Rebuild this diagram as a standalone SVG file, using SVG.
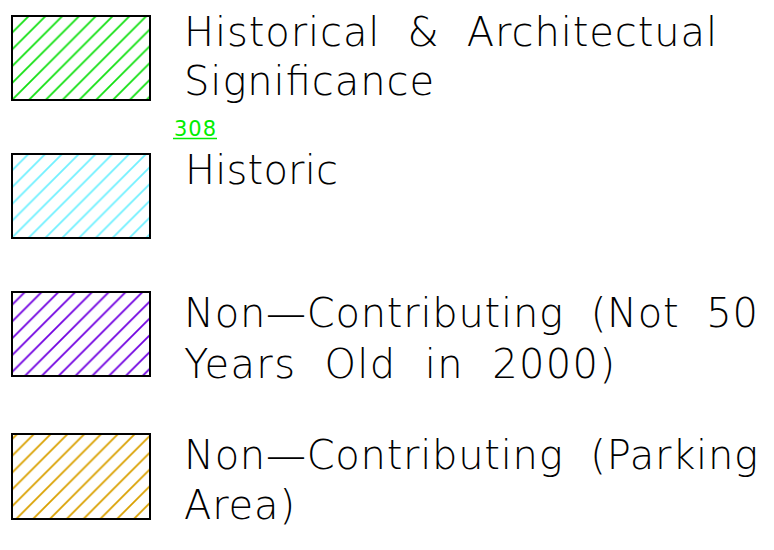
<svg xmlns="http://www.w3.org/2000/svg" width="774" height="550" viewBox="0 0 774 550">
<style>
.box{fill:none;stroke:#000;stroke-width:2}
.lbl{font-family:"DejaVu Sans ExtraLight","DejaVu Sans",sans-serif;font-weight:200;font-size:40px;fill:#000;white-space:pre}
.num{font-family:"DejaVu Sans","Liberation Sans",sans-serif;font-size:21px;fill:#00ee00}
.h{stroke-width:1.8;fill:none}
</style>
<defs>
<pattern id="pG" patternUnits="userSpaceOnUse" x="11.2" y="0" width="16.8" height="16.8"><path class="h" stroke="#10e010" d="M0,16.8L16.8,0M-1,1L1,-1M15.8,17.8L17.8,15.8"/></pattern>
<pattern id="pC" patternUnits="userSpaceOnUse" x="14.5" y="0" width="16.8" height="16.8"><path class="h" stroke="#70f0ff" d="M0,16.8L16.8,0M-1,1L1,-1M15.8,17.8L17.8,15.8"/></pattern>
<pattern id="pP" patternUnits="userSpaceOnUse" x="14.5" y="0" width="16.8" height="16.8"><path class="h" stroke="#7000e0" d="M0,16.8L16.8,0M-1,1L1,-1M15.8,17.8L17.8,15.8"/></pattern>
<pattern id="pO" patternUnits="userSpaceOnUse" x="14.4" y="0" width="16.8" height="16.8"><path class="h" stroke="#d9a000" d="M0,16.8L16.8,0M-1,1L1,-1M15.8,17.8L17.8,15.8"/></pattern>
</defs>
<g id="legend-historical-architectural">
<rect x="12" y="16" width="138" height="84" fill="url(#pG)"/>
<rect class="box" x="12" y="16" width="138" height="84"/>
<text class="lbl" x="184" y="46" textLength="533" lengthAdjust="spacing">Historical  &amp;  Architectual</text>
<text class="lbl" x="184" y="95" textLength="250" lengthAdjust="spacing">Significance</text>
</g>
<g id="label-308">
<text class="num" x="174" y="136" textLength="42" lengthAdjust="spacing">308</text>
<line x1="173" y1="138.5" x2="217" y2="138.5" stroke="#00ee00" stroke-width="1.5"/>
</g>
<g id="legend-historic">
<rect x="12" y="154" width="138" height="84" fill="url(#pC)"/>
<rect class="box" x="12" y="154" width="138" height="84"/>
<text class="lbl" x="185" y="184" textLength="153" lengthAdjust="spacing">Historic</text>
</g>
<g id="legend-non-contributing-age">
<rect x="12" y="292" width="138" height="84" fill="url(#pP)"/>
<rect class="box" x="12" y="292" width="138" height="84"/>
<text class="lbl" x="184" y="327" textLength="574" lengthAdjust="spacing">Non—Contributing  (Not  50</text>
<text class="lbl" x="184" y="378" textLength="431" lengthAdjust="spacing">Years  Old  in  2000)</text>
</g>
<g id="legend-non-contributing-parking">
<rect x="12" y="434" width="138" height="85" fill="url(#pO)"/>
<rect class="box" x="12" y="434" width="138" height="85"/>
<text class="lbl" x="184" y="469" textLength="574" lengthAdjust="spacing">Non—Contributing  (Parking</text>
<text class="lbl" x="184" y="519" textLength="111" lengthAdjust="spacing">Area)</text>
</g>
<g id="connectors"/>
</svg>
